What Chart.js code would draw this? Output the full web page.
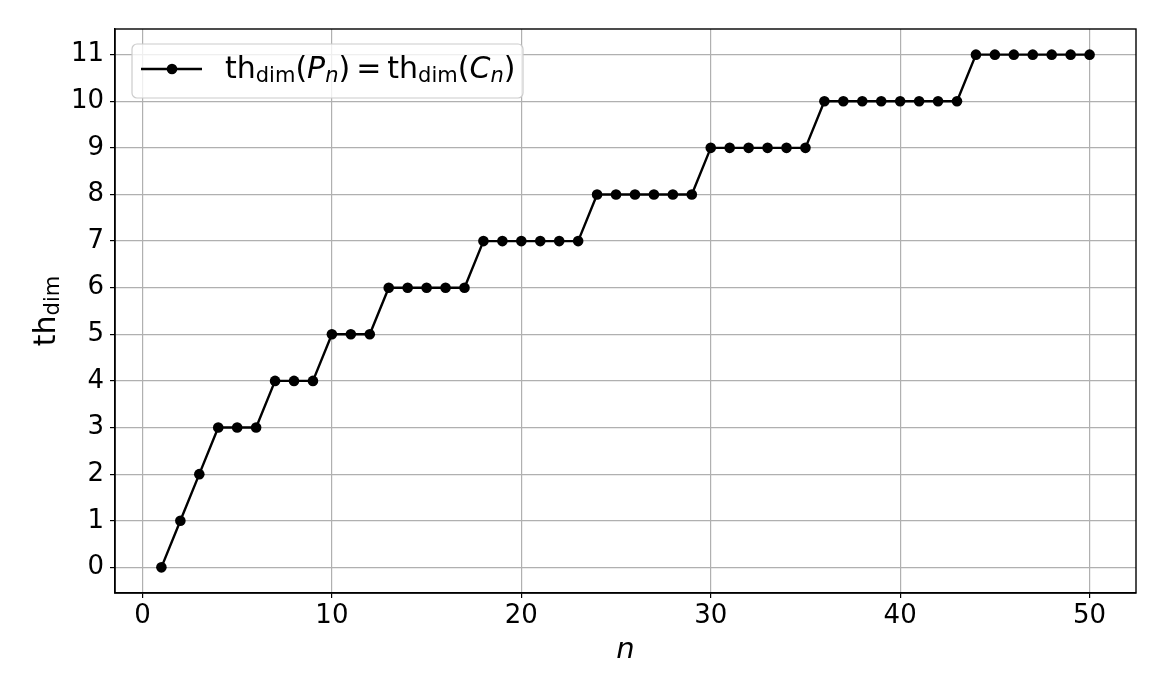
<!DOCTYPE html>
<html>
<head>
<meta charset="utf-8">
<script src="https://cdn.jsdelivr.net/npm/chart.js@4.4.1/dist/chart.umd.min.js"></script>
<style>
html,body{margin:0;padding:0;background:#ffffff;}
#wrap{width:1166px;height:696px;position:relative;}
canvas{display:block;}
</style>
</head>
<body>
<div id="wrap"><canvas id="c" width="1166" height="696"></canvas></div>
<script>
// ---- data ----
const N = [1,2,3,4,5,6,7,8,9,10,11,12,13,14,15,16,17,18,19,20,21,22,23,24,25,26,27,28,29,30,31,32,33,34,35,36,37,38,39,40,41,42,43,44,45,46,47,48,49,50];
const TH_DIM = [0,1,2,3,3,3,4,4,4,5,5,5,6,6,6,6,6,7,7,7,7,7,7,8,8,8,8,8,8,9,9,9,9,9,9,10,10,10,10,10,10,10,10,11,11,11,11,11,11,11];
const X_TICKS = [0,10,20,30,40,50];
const Y_TICKS = [0,1,2,3,4,5,6,7,8,9,10,11];
const X_TITLE = 'n';
const Y_TITLE_MAIN = 'th';
const Y_TITLE_SUB = 'dim';
const LEGEND_PARTS = [
  ['th','r',0],['dim','sub',0],['(','r',0],['P','i',0],['n','isub',0],[')','r',0],
  ['=','r',6],['th','r',6],['dim','sub',0],['(','r',0],['C','i',0],['n','isub',0],[')','r',0]
];

const FAM = '"DejaVu Sans", sans-serif';
let BIG = 30, SMALL = 21, SUBSHIFT = 4;

function fontFor(kind){
  if (kind === 'r') return BIG + 'px ' + FAM;
  if (kind === 'i') return 'italic ' + BIG + 'px ' + FAM;
  if (kind === 'sub') return SMALL + 'px ' + FAM;
  if (kind === 'isub') return 'italic ' + SMALL + 'px ' + FAM;
}
function richWidth(ctx, parts){
  let w = 0;
  for (const [t,k,g] of parts){ ctx.font = fontFor(k); w += g + ctx.measureText(t).width; }
  return w;
}
function drawRich(ctx, parts, x, y){
  ctx.textBaseline = 'alphabetic';
  ctx.textAlign = 'left';
  for (const [t,k,g] of parts){
    x += g;
    ctx.font = fontFor(k);
    const dy = (k === 'sub' || k === 'isub') ? SUBSHIFT : 0;
    ctx.fillText(t, x, y + dy);
    x += ctx.measureText(t).width;
  }
}

const mplPlugin = {
  id: 'mpl',
  afterDraw(chart){
    const ctx = chart.ctx;
    const a = chart.chartArea;
    ctx.save();
    // frame
    ctx.strokeStyle = '#000';
    ctx.lineWidth = 1.4;
    ctx.strokeRect(a.left, a.top, a.right - a.left, a.bottom - a.top);

    // legend
    const bx = a.left + 17, by = a.top + 15, bw = 391, bh = 54, r = 5;
    ctx.beginPath();
    ctx.moveTo(bx + r, by);
    ctx.arcTo(bx + bw, by, bx + bw, by + bh, r);
    ctx.arcTo(bx + bw, by + bh, bx, by + bh, r);
    ctx.arcTo(bx, by + bh, bx, by, r);
    ctx.arcTo(bx, by, bx + bw, by, r);
    ctx.closePath();
    ctx.fillStyle = 'rgba(255,255,255,0.8)';
    ctx.fill();
    ctx.strokeStyle = '#cccccc';
    ctx.lineWidth = 1.2;
    ctx.stroke();

    ctx.strokeStyle = '#000';
    ctx.lineWidth = 2.4;
    ctx.beginPath();
    ctx.moveTo(bx + 9, by + 25);
    ctx.lineTo(bx + 70, by + 25);
    ctx.stroke();
    ctx.fillStyle = '#000';
    ctx.beginPath();
    ctx.arc(bx + 40, by + 25, 5.3, 0, Math.PI * 2);
    ctx.fill();

    ctx.fillStyle = '#000';
    drawRich(ctx, LEGEND_PARTS, bx + 93, by + 34);

    // y title
    const yParts = [[Y_TITLE_MAIN,'r',0],[Y_TITLE_SUB,'sub',0]];
    const w = richWidth(ctx, yParts);
    ctx.translate(55, (a.top + a.bottom) / 2);
    ctx.rotate(-Math.PI / 2);
    drawRich(ctx, yParts, -w / 2, 0);
    ctx.restore();
  }
};

const ctx = document.getElementById('c').getContext('2d');
new Chart(ctx, {
  type: 'line',
  data: {
    datasets: [{
      label: 'th_dim(P_n) = th_dim(C_n)',
      data: N.map((n, i) => ({x: n, y: TH_DIM[i]})),
      borderColor: '#000',
      backgroundColor: '#000',
      borderWidth: 2.4,
      pointRadius: 5.3,
      pointHoverRadius: 5.3,
      pointBackgroundColor: '#000',
      pointBorderWidth: 0,
      tension: 0,
      fill: false,
      clip: false
    }]
  },
  options: {
    responsive: false,
    animation: false,
    devicePixelRatio: 1,
    events: [],
    layout: { padding: { left: 0, right: 30, top: 29, bottom: 0 } },
    plugins: { legend: { display: false }, tooltip: { enabled: false } },
    scales: {
      x: {
        type: 'linear',
        min: -1.45, max: 52.45,
        afterBuildTicks: s => { s.ticks = X_TICKS.map(v => ({value: v})); },
        afterFit: s => { s.height = 103; },
        ticks: {
          autoSkip: false, maxRotation: 0, padding: 3,
          color: '#000', font: { family: FAM, size: 26 },
          callback: v => String(v)
        },
        grid: { color: '#b0b0b0', lineWidth: 1.2, tickColor: '#000', tickLength: 5, tickWidth: 1.2 },
        border: { display: true, color: '#000', width: 1.4 },
        title: { display: true, text: X_TITLE, color: '#000',
                 font: { family: FAM, size: 29, style: 'italic' },
                 padding: { top: 0, bottom: 28 } }
      },
      y: {
        type: 'linear',
        min: -0.55, max: 11.55,
        afterBuildTicks: s => { s.ticks = Y_TICKS.map(v => ({value: v})); },
        afterFit: s => { s.width = 115; },
        ticks: {
          autoSkip: false, padding: 6,
          color: '#000', font: { family: FAM, size: 26 },
          callback: v => String(v)
        },
        grid: { color: '#b0b0b0', lineWidth: 1.2, tickColor: '#000', tickLength: 5, tickWidth: 1.2 },
        border: { display: true, color: '#000', width: 1.4 }
      }
    }
  },
  plugins: [mplPlugin]
});
</script>
</body>
</html>
